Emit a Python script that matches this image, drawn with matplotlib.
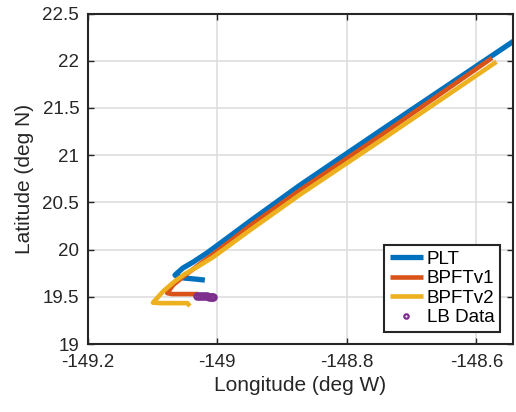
import matplotlib
matplotlib.use("Agg")
import matplotlib.pyplot as plt
from matplotlib.ticker import FuncFormatter

plt.rcParams["font.family"] = ["Liberation Sans", "DejaVu Sans"]
plt.rcParams["axes.unicode_minus"] = False

# Ground tracks (longitude in deg W shown as negative, latitude in deg N)
plt_lon = [-149.019, -149.034, -149.050, -149.060, -149.065, -149.053, -149.037,
           -149.016, -148.999, -148.949, -148.872, -148.749, -148.544, -148.517]
plt_lat = [19.677, 19.688, 19.698, 19.709, 19.730, 19.804, 19.868,
           19.963, 20.048, 20.302, 20.683, 21.255, 22.201, 22.325]

bpft1_lon = [-149.029, -149.050, -149.070, -149.077, -149.068, -149.053,
             -149.031, -149.006, -148.949, -148.872, -148.749, -148.576]
bpft1_lat = [19.529, 19.529, 19.529, 19.539, 19.624, 19.709,
             19.825, 19.952, 20.254, 20.630, 21.202, 22.029]

bpft2_lon = [-149.042, -149.046, -149.073, -149.088, -149.099, -149.083, -149.065,
             -149.050, -149.031, -149.006, -148.949, -148.872, -148.749, -148.569]
bpft2_lat = [19.402, 19.433, 19.433, 19.433, 19.438, 19.560, 19.666,
             19.740, 19.815, 19.921, 20.207, 20.583, 21.149, 21.989]

lb_lon = [-149.031, -149.028, -149.025, -149.022, -149.019,
          -149.016, -149.013, -149.010, -149.008, -149.006]
lb_lat = [19.512, 19.510, 19.509, 19.507, 19.506,
          19.505, 19.503, 19.502, 19.501, 19.500]

x_ticks = [-149.2, -149.0, -148.8, -148.6]
y_ticks = [19.0, 19.5, 20.0, 20.5, 21.0, 21.5, 22.0, 22.5]

fig = plt.figure(figsize=(5.16, 4.12), dpi=100)
ax = fig.add_axes([0.1696, 0.165, 0.824, 0.8022])

ink = "#262626"
line_kw = dict(solid_capstyle="butt", solid_joinstyle="round")
ax.plot(plt_lon, plt_lat, color="#0072BD", lw=3.8, label="PLT", **line_kw)
ax.plot(bpft1_lon, bpft1_lat, color="#D95319", lw=3.3, label="BPFTv1", **line_kw)
ax.plot(bpft2_lon, bpft2_lat, color="#EDB120", lw=3.3, label="BPFTv2", **line_kw)
ax.plot(lb_lon, lb_lat, linestyle="none", marker="o", ms=4.5, mfc="none",
        mec="#7E2F8E", mew=1.6, label="LB Data")

ax.set_xlim(-149.2, -148.544)
ax.set_ylim(19.0, 22.5)
ax.set_xticks(x_ticks)
ax.set_yticks(y_ticks)
fmt = FuncFormatter(lambda v, p: "%g" % round(v, 3))
ax.xaxis.set_major_formatter(fmt)
ax.yaxis.set_major_formatter(fmt)

ax.grid(True, color="#dedede", lw=1.2)
ax.set_axisbelow(True)
ax.tick_params(direction="in", length=4, width=1, colors=ink, labelsize=13.5,
               top=True, right=True)
ax.tick_params(axis="x", pad=7.5)
ax.tick_params(axis="y", pad=6)
for s in ax.spines.values():
    s.set_color(ink)
    s.set_linewidth(1.5)

ax.set_xlabel("Longitude (deg W)", fontsize=15, color=ink, labelpad=3)
ax.set_ylabel("Latitude (deg N)", fontsize=15, color=ink, labelpad=6)

leg = ax.legend(loc="lower right", bbox_to_anchor=(0.970, 0.037),
                borderaxespad=0, fontsize=13.5, handlelength=1.75,
                handletextpad=0.2, labelspacing=0.12, borderpad=0.3,
                fancybox=False, framealpha=1, edgecolor=ink, markerscale=0.7)
leg.get_frame().set_linewidth(1.5)

fig.savefig("out.png", dpi=100)
